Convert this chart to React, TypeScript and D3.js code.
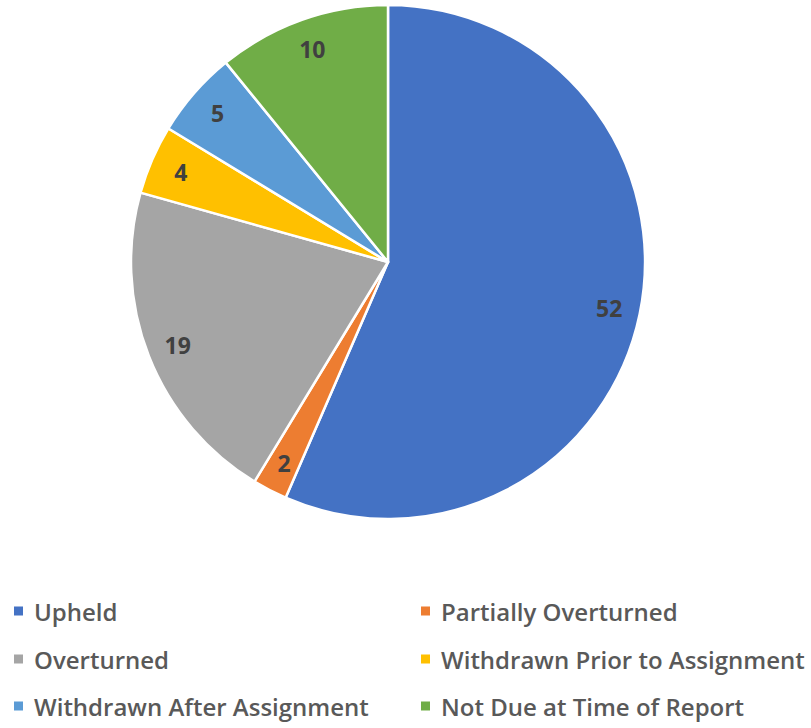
import React from "react";
import * as d3 from "d3";

const categories = [
  "Upheld",
  "Partially Overturned",
  "Overturned",
  "Withdrawn Prior to Assignment",
  "Withdrawn After Assignment",
  "Not Due at Time of Report",
];
const values = [52, 2, 19, 4, 5, 10];
const colors = ["#4472C4", "#ED7D31", "#A5A5A5", "#FFC000", "#5B9BD5", "#70AD47"];

const W = 811;
const H = 728;
const cx = 388;
const cy = 262;
const R = 257;
const labelR = 226;

export default function App() {
  const pie = d3.pie<number>().sort(null).value((d) => d);
  const arcs = pie(values);
  const arc = d3.arc<d3.PieArcDatum<number>>().innerRadius(0).outerRadius(R);
  const labelArc = d3.arc<d3.PieArcDatum<number>>().innerRadius(labelR).outerRadius(labelR);

  const legendCols = [14, 421];
  const legendRows = [611, 659, 706];

  return (
    <svg
      width={W}
      height={H}
      style={{ position: "absolute", left: 0, top: 0, background: "#fff" }}
      fontFamily="'Open Sans', sans-serif"
    >
      <g transform={`translate(${cx},${cy})`}>
        {arcs.map((a, i) => (
          <path key={i} d={arc(a) || ""} fill={colors[i]} stroke="#fff" strokeWidth={2.5} strokeLinejoin="round" />
        ))}
        {arcs.map((a, i) => {
          const [x, y] = labelArc.centroid(a);
          return (
            <text
              key={i}
              x={x}
              y={y}
              textAnchor="middle"
              dominantBaseline="central"
              fontSize={23}
              fontWeight="bold"
              fill="#404040"
            >
              {values[i]}
            </text>
          );
        })}
      </g>
      {categories.map((c, i) => {
        const col = i % 2;
        const row = Math.floor(i / 2);
        const x = legendCols[col];
        const y = legendRows[row];
        return (
          <g key={c}>
            <rect x={x} y={y - 4.5} width={9} height={9} fill={colors[i]} />
            <text x={x + 20} y={y} dominantBaseline="central" fontSize={24} fontWeight={600} fill="#595959">
              {c}
            </text>
          </g>
        );
      })}
    </svg>
  );
}
